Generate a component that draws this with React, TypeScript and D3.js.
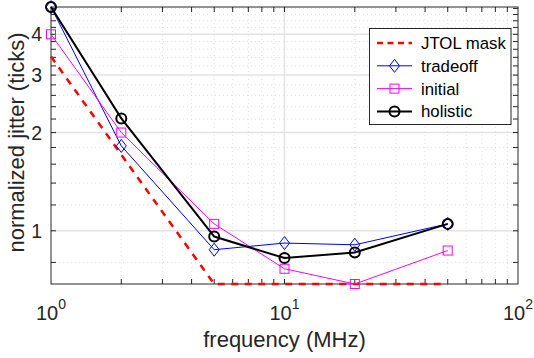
import React, { useRef, useEffect } from "react";
import * as d3 from "d3";

// frequency points (MHz) and normalized jitter per method
const freqs = [1, 2, 5, 10, 20, 50];
const jtolMask = [3.42, 1.71, 0.687, 0.687, 0.687, 0.687];
const tradeoff = [4.85, 1.82, 0.875, 0.917, 0.906, 1.05];
const initial = [4.0, 2.0, 1.05, 0.765, 0.687, 0.87];
const holistic = [4.85, 2.21, 0.96, 0.825, 0.858, 1.05];

const yTickValues = [1, 2, 3, 4];
const xTickExponents = [0, 1, 2];

type Pt = { f: number; v: number };

export default function App() {
  const svgRef = useRef<SVGSVGElement>(null);

  useEffect(() => {
    if (!svgRef.current) return;
    document.body.style.margin = "0";

    const svg = d3.select(svgRef.current);
    svg.selectAll("*").remove();

    const width = 534;
    const height = 358;
    const margin = { top: 7, right: 16, bottom: 74, left: 51 };
    const font = "'Liberation Sans', Arial, Helvetica, sans-serif";
    const axisColor = "#262626";

    svg.attr("width", width).attr("height", height).style("font-family", font);

    const all = [...jtolMask, ...tradeoff, ...initial, ...holistic];
    const x = d3.scaleLog().domain([1, 100]).range([margin.left, width - margin.right]);
    const y = d3
      .scaleLog()
      .domain(d3.extent(all) as [number, number])
      .range([height - margin.bottom, margin.top]);

    const [x0, x1] = x.range();
    const [yb, yt] = y.range();

    // background
    svg.append("rect")
      .attr("x", x0).attr("y", yt)
      .attr("width", x1 - x0).attr("height", yb - yt)
      .attr("fill", "#fff");

    // minor grid (x: 2..9 per decade, y: every 0.2)
    const xMinor: number[] = [];
    [1, 10].forEach(d => { for (let k = 2; k <= 9; k++) xMinor.push(d * k); });
    const yMinor: number[] = [];
    for (let v = 0.8; v < 4.85; v += 0.2) {
      const r = Math.round(v * 10) / 10;
      if (!yTickValues.includes(r) && r >= y.domain()[0]) yMinor.push(r);
    }

    const grid = svg.append("g");
    xMinor.forEach(f => {
      grid.append("line")
        .attr("x1", x(f)).attr("x2", x(f)).attr("y1", yt).attr("y2", yb)
        .attr("stroke", "#d9d9d9").attr("stroke-width", 0.8).attr("stroke-dasharray", "1,3");
    });
    yMinor.forEach(v => {
      grid.append("line")
        .attr("x1", x0).attr("x2", x1).attr("y1", y(v)).attr("y2", y(v))
        .attr("stroke", "#d9d9d9").attr("stroke-width", 0.8).attr("stroke-dasharray", "1,3");
    });
    // major grid
    grid.append("line")
      .attr("x1", x(10)).attr("x2", x(10)).attr("y1", yt).attr("y2", yb)
      .attr("stroke", "#e3e3e3").attr("stroke-width", 1.5);
    yTickValues.forEach(v => {
      grid.append("line")
        .attr("x1", x0).attr("x2", x1).attr("y1", y(v)).attr("y2", y(v))
        .attr("stroke", "#e3e3e3").attr("stroke-width", 1.5);
    });

    // box + inward ticks on all four sides
    const axes = svg.append("g").attr("stroke", axisColor).attr("stroke-width", 1);
    axes.append("rect")
      .attr("x", x0).attr("y", yt)
      .attr("width", x1 - x0).attr("height", yb - yt)
      .attr("fill", "none");
    const tl = 5;
    [...xMinor, 10].forEach(f => {
      axes.append("line").attr("x1", x(f)).attr("x2", x(f)).attr("y1", yb).attr("y2", yb - tl);
      axes.append("line").attr("x1", x(f)).attr("x2", x(f)).attr("y1", yt).attr("y2", yt + tl);
    });
    [...yMinor, ...yTickValues].forEach(v => {
      axes.append("line").attr("x1", x0).attr("x2", x0 + tl).attr("y1", y(v)).attr("y2", y(v));
      axes.append("line").attr("x1", x1).attr("x2", x1 - tl).attr("y1", y(v)).attr("y2", y(v));
    });

    // tick labels
    yTickValues.forEach(v => {
      svg.append("text")
        .attr("x", x0 - 9).attr("y", y(v) + 7)
        .attr("text-anchor", "end")
        .style("font-size", "19.5px").style("fill", axisColor)
        .text(`${v}`);
    });
    xTickExponents.forEach(e => {
      const t = svg.append("text")
        .attr("x", x(Math.pow(10, e))).attr("y", 320)
        .attr("text-anchor", "middle")
        .style("font-size", "20px").style("fill", axisColor);
      t.append("tspan").text("10");
      t.append("tspan").attr("dy", -11).style("font-size", "14px").text(`${e}`);
    });

    // axis labels
    svg.append("text")
      .attr("x", (x0 + x1) / 2).attr("y", 347)
      .attr("text-anchor", "middle")
      .style("font-size", "22px").style("fill", axisColor)
      .text("frequency (MHz)");
    svg.append("text")
      .attr("transform", `translate(24,${(yt + yb) / 2 - 3}) rotate(-90)`)
      .attr("text-anchor", "middle")
      .style("font-size", "22px").style("fill", axisColor)
      .text("normalized jitter (ticks)");

    const line = d3.line<Pt>().x(d => x(d.f)).y(d => y(d.v));
    const toPts = (vals: number[]) => freqs.map((f, i) => ({ f, v: vals[i] }));

    const series = [
      { name: "JTOL mask", vals: jtolMask, color: "#ff0000", width: 2.5, dash: "7,6.5", marker: "none" },
      { name: "tradeoff", vals: tradeoff, color: "#0000ff", width: 1, dash: "", marker: "diamond" },
      { name: "initial", vals: initial, color: "#ff00ff", width: 1, dash: "", marker: "square" },
      { name: "holistic", vals: holistic, color: "#000000", width: 2, dash: "", marker: "circle" },
    ];

    const drawMarker = (g: any, kind: string, cx: number, cy: number, color: string, sw: number) => {
      if (kind === "diamond") {
        g.append("path")
          .attr("d", `M${cx},${cy - 6.5}L${cx + 5},${cy}L${cx},${cy + 6.5}L${cx - 5},${cy}Z`)
          .attr("fill", "none").attr("stroke", color).attr("stroke-width", sw);
      } else if (kind === "square") {
        g.append("rect")
          .attr("x", cx - 4.5).attr("y", cy - 4.5).attr("width", 9).attr("height", 9)
          .attr("fill", "none").attr("stroke", color).attr("stroke-width", sw);
      } else if (kind === "circle") {
        g.append("circle")
          .attr("cx", cx).attr("cy", cy).attr("r", 5)
          .attr("fill", "none").attr("stroke", color).attr("stroke-width", sw);
      }
    };

    const plot = svg.append("g");
    series.forEach(s => {
      const pts = toPts(s.vals);
      plot.append("path")
        .datum(pts)
        .attr("fill", "none")
        .attr("stroke", s.color)
        .attr("stroke-width", s.width)
        .attr("stroke-dasharray", s.dash)
        .attr("d", line);
      pts.forEach(p => drawMarker(plot, s.marker, x(p.f), y(p.v), s.color, s.width));
    });

    // legend
    const lg = svg.append("g");
    lg.append("rect")
      .attr("x", 369.5).attr("y", 28.5).attr("width", 141.5).attr("height", 96)
      .attr("fill", "#fff").attr("stroke", axisColor).attr("stroke-width", 1);
    series.forEach((s, i) => {
      const ly = 43 + i * 22.8;
      lg.append("line")
        .attr("x1", 377).attr("x2", 412).attr("y1", ly).attr("y2", ly)
        .attr("stroke", s.color).attr("stroke-width", s.width)
        .attr("stroke-dasharray", s.dash ? "6,4.5" : "");
      drawMarker(lg, s.marker, 394.5, ly, s.color, s.width);
      lg.append("text")
        .attr("x", 421).attr("y", ly + 6)
        .style("font-size", "16.8px").style("fill", "#000")
        .text(s.name);
    });
  }, []);

  return <svg ref={svgRef} style={{ display: "block" }} />;
}
